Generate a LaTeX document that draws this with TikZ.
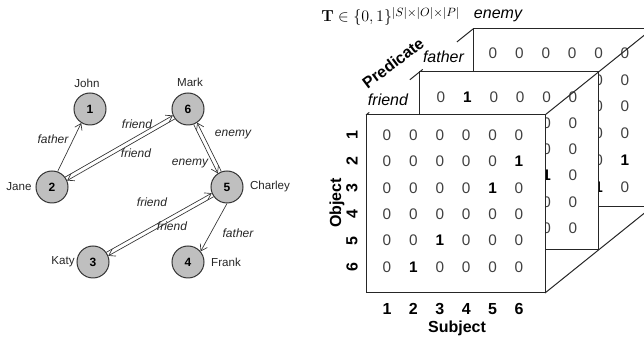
\documentclass[tikz,border=0pt]{standalone}
\usepackage[no-math]{fontspec}
\setmainfont{Liberation Sans}
\usetikzlibrary{arrows.meta,calc}

\begin{document}
\begin{tikzpicture}[x=0.75pt,y=-0.75pt,
  entity/.style={circle, draw=black!80, fill=black!25, line width=0.75pt,
    minimum size=24pt, inner sep=0pt, font=\fontsize{9}{10}\selectfont\bfseries},
  who/.style={font=\fontsize{8.7}{10}\selectfont, text=black!85},
  rel/.style={font=\fontsize{9}{10}\selectfont\itshape, text=black!85},
  link/.style={draw=black!80, line width=0.5pt, -{Straight Barb[length=4.5pt,width=6pt]}},
  frame/.style={draw=black!85, fill=white, line width=0.75pt},
  edge3d/.style={draw=black!85, line width=0.75pt},
  entry/.style={font=\fontsize{11.5}{13}\selectfont, text=black!75, inner sep=0pt},
  axis/.style={font=\fontsize{12}{14}\selectfont\bfseries},
  layer/.style={font=\fontsize{12}{14}\selectfont\itshape, inner sep=1pt, anchor=base}
]
\useasboundingbox (0,0) rectangle (644,338);
\clip (0,0) rectangle (644,338);

% ---------------- knowledge graph ----------------
\node[entity] (n1) at (90,109) {1};
\node[entity] (n6) at (188,109) {6};
\node[entity] (n2) at (52,187) {2};
\node[entity] (n5) at (227,187) {5};
\node[entity] (n3) at (93,262) {3};
\node[entity] (n4) at (188,262) {4};

\node[who] (john) at (87,83) {John};
\node[who] (mark) at (190,82) {Mark};
\node[who] (jane) at (19,187) {Jane};
\node[who] (charley) at (270,187) {Charley};
\node[who] (katy) at (63,262) {Katy};
\node[who] (frank) at (226,262) {Frank};

\draw[link] (n2.70) -- (n1.238);
\draw[link] (n2.37) -- (n6.203);
\draw[link] (n6.217) -- (n2.23);
\draw[link] (n5.110) -- (n6.304);
\draw[link] (n6.290) -- (n5.124);
\draw[link] (n3.36) -- (n5.202);
\draw[link] (n5.216) -- (n3.22);
\draw[link] (n5.270) -- (n4.40);

\node[rel] (r21) at (53,139) {father};
\node[rel] (r26) at (137,124) {friend};
\node[rel] (r62) at (136,153) {friend};
\node[rel] (r56) at (233,135) {enemy};
\node[rel] (r65) at (190,164) {enemy};
\node[rel] (r35) at (152,202) {friend};
\node[rel] (r53) at (172,226) {friend};
\node[rel] (r54) at (238,233) {father};

% ---------------- adjacency tensor ----------------
\node[anchor=base west, inner sep=0pt, font=\fontsize{12.5}{14}\selectfont] (tensor)
  at (321,22) {$\mathbf{T}\in\{0,1\}^{|S|\times|O|\times|P|}$};

% slice corners (front / middle / back), depth step (53.5,-43)
\coordinate (fTL) at (366,115);   \coordinate (fTR) at (545,115);   \coordinate (fBR) at (545,293);
\coordinate (mTL) at (419.5,72);  \coordinate (mTR) at (598.5,72);  \coordinate (mBR) at (598.5,250);
\coordinate (bTL) at (473,29);    \coordinate (bTR) at (652,29);    \coordinate (bBR) at (652,207);

% upper-left depth edge: only the short pieces beside the slice names show
\draw[edge3d] (fTL) -- ($(fTL)!0.03!(bTL)$);
\draw[edge3d] ($(fTL)!0.41!(bTL)$) -- ($(fTL)!0.53!(bTL)$);
\draw[edge3d] ($(fTL)!0.85!(bTL)$) -- (bTL);

\node[layer] (lfriend) at (388,106) {friend};
\node[layer] (lfather) at (443.5,63) {father};
\node[layer] (lenemy) at (498,19) {enemy};
\node[axis, rotate=37] (pred) at (393,63) {Predicate};

% back slice: enemy (row 1 and the last two columns show)
\path[frame] (bTL) rectangle (bBR);
\foreach \row [count=\r] in {{0,0,0,0,0,0},{0,0,0,0,0,0},{0,0,0,0,0,0},
                             {0,0,0,0,0,0},{0,0,0,0,0,1},{0,0,0,0,1,0}}{
  \foreach \v [count=\c] in \row {
    \ifnum\r=1 \def\shown{1}\else\ifnum\c>4 \def\shown{1}\else\def\shown{0}\fi\fi
    \ifnum\shown=1
      \node[entry] (en-\r-\c) at ({493+(\c-1)*26.4},{53+(\r-1)*26.8})
        {\ifnum\v=1 \bfseries\color{black}\fi\v};
    \fi
  }
}

% middle slice: father
\path[frame] (mTL) rectangle (mBR);
\foreach \row [count=\r] in {{0,1,0,0,0,0},{0,0,0,0,0,0},{0,0,0,0,0,0},
                             {0,0,0,0,1,0},{0,0,0,0,0,0},{0,0,0,0,0,0}}{
  \foreach \v [count=\c] in \row {
    \ifnum\r=1 \def\shown{1}\else\ifnum\c>4 \def\shown{1}\else\def\shown{0}\fi\fi
    \ifnum\shown=1
      \node[entry] (fa-\r-\c) at ({441+(\c-1)*26.4},{97+(\r-1)*26.2})
        {\ifnum\v=1 \bfseries\color{black}\fi\v};
    \fi
  }
}

% front slice: friend
\path[frame] (fTL) rectangle (fBR);
\foreach \row [count=\r] in {{0,0,0,0,0,0},{0,0,0,0,0,1},{0,0,0,0,1,0},
                             {0,0,0,0,0,0},{0,0,1,0,0,0},{0,1,0,0,0,0}}{
  \foreach \v [count=\c] in \row {
    \node[entry] (fr-\r-\c) at ({387+(\c-1)*26.4},{135+(\r-1)*26.4})
      {\ifnum\v=1 \bfseries\color{black}\fi\v};
  }
}

% right-hand depth edges
\draw[edge3d] (fTR) -- (bTR);
\draw[edge3d] (fBR) -- (bBR);

% axis labels
\foreach \k in {1,...,6}{
  \node[axis, rotate=90] (obj\k) at (352,{135+(\k-1)*26.4}) {\k};
  \node[axis] (sub\k) at ({387+(\k-1)*26.4},309) {\k};
}
\node[axis, rotate=90] (objlabel) at (337,203) {Object};
\node[axis] (sublabel) at (457,328) {Subject};
\end{tikzpicture}
\end{document}
